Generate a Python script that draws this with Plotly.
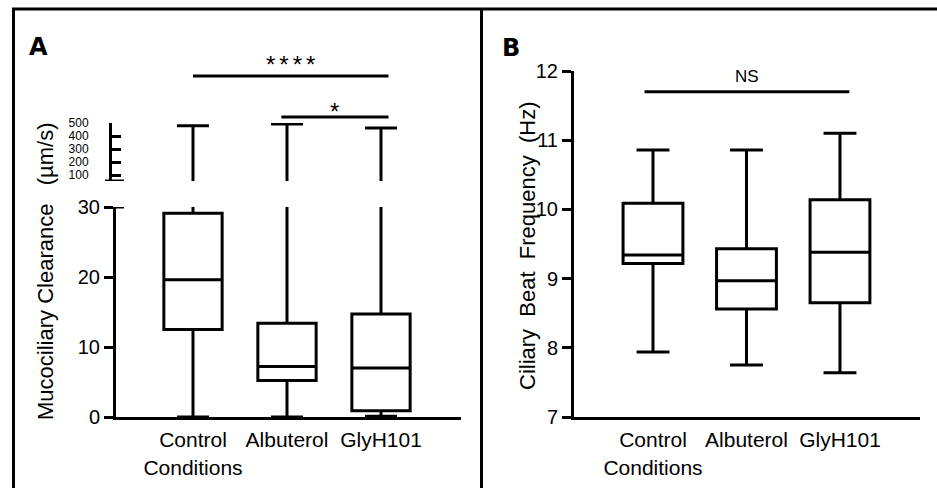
import plotly.graph_objects as go

W, H = 937, 488

# ---------------- data ----------------
groups = ["Control", "Albuterol", "GlyH101"]
group_pos = [0, 1, 2]
group_labels = ["Control<br>Conditions", "Albuterol", "GlyH101"]

# Panel A: Mucociliary clearance (µm/s)
mcc_min = [0.0, 0.0, 0.1]
mcc_q1 = [12.5, 5.2, 0.9]
mcc_median = [19.6, 7.2, 7.0]
mcc_q3 = [29.1, 13.4, 14.7]
mcc_max = [479, 492, 461]

# Panel B: Ciliary beat frequency (Hz)
cbf_min = [7.94, 7.75, 7.64]
cbf_q1 = [9.22, 8.56, 8.65]
cbf_median = [9.34, 8.97, 9.38]
cbf_q3 = [10.09, 9.43, 10.14]
cbf_max = [10.86, 10.86, 11.10]

lower_ticks = [0, 10, 20, 30]
upper_ticks = [100, 200, 300, 400, 500]
cbf_ticks = [7, 8, 9, 10, 11, 12]

# significance brackets: (from, to, label)
S = "\u2006"
sig_a = [(0.0, 2.08, S.join("****")), (0.94, 2.08, "*")]
sig_b = [(-0.09, 2.10, "NS")]
sig_b_level = 11.70

FONT = "Liberation Sans, Arial, sans-serif"


def px(x):
    return x / W


def py(y):
    return 1 - y / H


fig = go.Figure()

box_style = dict(
    line=dict(color="black", width=3),
    fillcolor="rgba(0,0,0,0)",
    whiskerwidth=0.55,
    boxpoints=False,
    showlegend=False,
    hoverinfo="skip",
)

# Panel A lower segment & upper segment (broken axis)
for ya in ["y", "y2"]:
    fig.add_trace(go.Box(
        x=group_pos, q1=mcc_q1, median=mcc_median, q3=mcc_q3,
        lowerfence=mcc_min, upperfence=mcc_max, width=0.62,
        xaxis="x", yaxis=ya, **box_style))

# Panel B
fig.add_trace(go.Box(
    x=group_pos, q1=cbf_q1, median=cbf_median, q3=cbf_q3,
    lowerfence=cbf_min, upperfence=cbf_max, width=0.64,
    xaxis="x2", yaxis="y3", **box_style))

axis_common = dict(
    showline=True, linecolor="black", linewidth=3, showgrid=False,
    zeroline=False, fixedrange=True, color="black", automargin=False,
)

fig.update_layout(
    template="none",
    width=W, height=H,
    margin=dict(l=0, r=0, t=0, b=0, pad=0),
    paper_bgcolor="white", plot_bgcolor="white",
    font=dict(family=FONT, color="black", size=20),
    xaxis=dict(domain=[px(116), px(461)], range=[-0.819, 2.851], anchor="y",
               tickvals=group_pos, ticktext=group_labels, ticks="",
               tickfont=dict(size=21), ticklabelstandoff=2, **axis_common),
    yaxis=dict(domain=[py(417), py(207)], range=[0, 30], anchor="x",
               tickvals=lower_ticks, ticks="outside", ticklen=9, tickwidth=3,
               tickfont=dict(size=20), **axis_common),
    yaxis2=dict(domain=[py(181), py(123)], range=[55, 500], anchor="free",
                position=px(110), tickvals=upper_ticks, ticks="inside",
                ticklen=9, tickwidth=3, tickfont=dict(size=12),
                ticklabelstandoff=18, **axis_common),
    xaxis2=dict(domain=[px(574), px(920)], range=[-0.845, 2.856], anchor="y3",
                tickvals=group_pos, ticktext=group_labels, ticks="",
                tickfont=dict(size=21), ticklabelstandoff=2, **axis_common),
    yaxis3=dict(domain=[py(417), py(71)], range=[7, 12], anchor="x2",
                tickvals=cbf_ticks, ticks="outside", ticklen=9, tickwidth=3,
                tickfont=dict(size=20), **axis_common),
)

shapes = []
line_k = dict(color="black", width=3)
# outer frame
shapes.append(dict(type="line", xref="paper", yref="paper", x0=px(12), x1=1, y0=py(9), y1=py(9), line=line_k))
shapes.append(dict(type="line", xref="paper", yref="paper", x0=px(13.5), x1=px(13.5), y0=py(8), y1=0, line=line_k))
shapes.append(dict(type="line", xref="paper", yref="paper", x0=px(481.5), x1=px(481.5), y0=py(8), y1=0, line=line_k))
# axis break caps
shapes.append(dict(type="line", xref="paper", yref="y", x0=px(116), x1=px(124), y0=30, y1=30, line=line_k))
shapes.append(dict(type="line", xref="paper", yref="y2", x0=px(105), x1=px(124), y0=55, y1=55, line=line_k))

annotations = []
# Panel A significance brackets (above the upper segment)
sig_a_rows = [76, 117]
sig_a_text = [64, 111]
for (a, b, lab), yb, yt in zip(sig_a, sig_a_rows, sig_a_text):
    shapes.append(dict(type="line", xref="x", yref="paper", x0=a, x1=b,
                       y0=py(yb), y1=py(yb), line=line_k))
    annotations.append(dict(x=(a + b) / 2, y=py(yt), xref="x", yref="paper",
                            text=lab, showarrow=False, font=dict(size=24),
                            xanchor="center", yanchor="middle"))
# Panel B
for a, b, lab in sig_b:
    shapes.append(dict(type="line", xref="x2", yref="y3", x0=a, x1=b,
                       y0=sig_b_level, y1=sig_b_level, line=line_k))
    annotations.append(dict(x=(a + b) / 2, y=py(76), xref="x2", yref="paper",
                            text=lab, showarrow=False, font=dict(size=17),
                            xanchor="center", yanchor="middle"))

# panel letters
annotations.append(dict(x=px(38), y=py(47), xref="paper", yref="paper", text="<b>A</b>",
                        showarrow=False, font=dict(size=24, family="DejaVu Sans"),
                        xanchor="center", yanchor="middle"))
annotations.append(dict(x=px(511), y=py(48), xref="paper", yref="paper", text="<b>B</b>",
                        showarrow=False, font=dict(size=24, family="DejaVu Sans"),
                        xanchor="center", yanchor="middle"))
# axis titles
annotations.append(dict(x=px(45), y=py(271), xref="paper", yref="paper",
                        text="Mucociliary Clearance   (µm/s)", textangle=-90,
                        showarrow=False, font=dict(size=22),
                        xanchor="center", yanchor="middle"))
annotations.append(dict(x=px(528), y=py(246), xref="paper", yref="paper",
                        text="Ciliary  Beat  Frequency  (Hz)", textangle=-90,
                        showarrow=False, font=dict(size=22),
                        xanchor="center", yanchor="middle"))

fig.update_layout(shapes=shapes, annotations=annotations)

fig.write_html("out.html")
